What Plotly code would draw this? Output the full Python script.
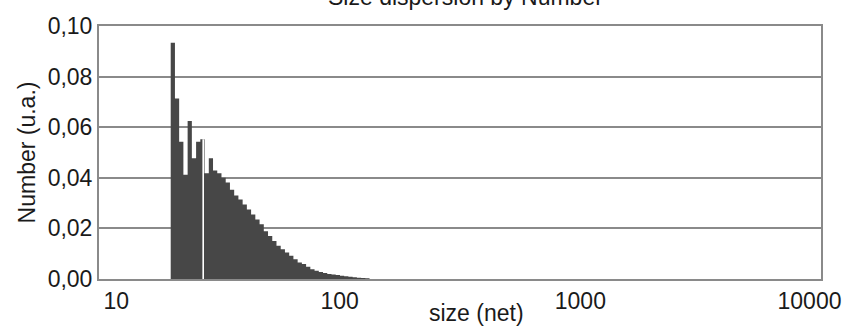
import plotly.graph_objects as go

# ---- data ----
bin_left_nm = [19.86, 20.68, 21.53, 22.42, 23.35, 24.31, 25.32, 26.36, 27.45, 28.59,
               29.77, 31.00, 32.28, 33.61, 35.00, 36.45, 37.95, 39.52, 41.15, 42.85,
               44.62, 46.47, 48.39, 50.39, 52.47, 54.63, 56.89, 59.24, 61.69, 64.24,
               66.89, 69.66, 72.53, 75.53, 78.65, 81.90, 85.28, 88.81, 92.48, 96.30,
               100.3, 104.4, 108.7, 113.2, 117.9, 122.8, 127.8]
bin_last_right_nm = 133.1
number = [0.0934, 0.0713, 0.0542, 0.0412, 0.0625, 0.0477, 0.0542, 0.0552, 0.0418, 0.0477,
          0.0429, 0.0418, 0.0400, 0.0381, 0.0353, 0.0330, 0.0314, 0.0294, 0.0275, 0.0255,
          0.0235, 0.0216, 0.0189, 0.0170, 0.0150, 0.0131, 0.0118, 0.0105, 0.0092, 0.0078,
          0.0065, 0.0059, 0.0048, 0.0039, 0.0033, 0.0028, 0.0024, 0.0020, 0.0018, 0.0016,
          0.0013, 0.0011, 0.0009, 0.0007, 0.0005, 0.0004, 0.0003]
gap_size_nm = 27.1          # thin white gap seen in the histogram
gap_height = 0.0552

x_tick_vals = [10, 100, 1000, 10000]
x_tick_text = ["\u2003\u200210", "100", "1000", "10000\u2003"]
y_tick_vals = [0.00, 0.02, 0.04, 0.06, 0.08, 0.10]
y_tick_text = ["0,00", "0,02", "0,04", "0,06", "0,08", "0,10"]

title_text = "Size dispersion by Number"
x_title = "size (net)"
y_title = "Number (u.a.)"

FONT = "Liberation Sans, Arial, sans-serif"
FS = 23
TXT = "#1a1a1a"
BAR = "#474747"
GRID = "#8a8a8a"

edges = bin_left_nm + [bin_last_right_nm]
heights = number + [number[-1]]

fig = go.Figure()
fig.add_trace(go.Scatter(
    x=edges, y=heights, mode="lines", line=dict(shape="hv", width=0, color=BAR),
    fill="tozeroy", fillcolor=BAR, hoverinfo="skip", showlegend=False))
fig.add_trace(go.Scatter(
    x=[gap_size_nm, gap_size_nm], y=[0, gap_height], mode="lines",
    line=dict(color="white", width=1.6), hoverinfo="skip", showlegend=False))

fig.update_layout(
    width=851, height=327,
    margin=dict(l=99, r=30, t=26, b=48, autoexpand=False),
    paper_bgcolor="white", plot_bgcolor="white",
    font=dict(family=FONT, size=FS, color=TXT),
    showlegend=False,
    annotations=[
        dict(text=title_text, xref="paper", yref="paper", x=0.507, y=1.1146,
             xanchor="center", yanchor="middle", showarrow=False,
             font=dict(family=FONT, size=FS, color=TXT)),
        dict(text=x_title, xref="paper", yref="paper", x=0.5235, y=-0.134,
             xanchor="center", yanchor="middle", showarrow=False,
             font=dict(family=FONT, size=FS, color=TXT)),
    ],
)
fig.update_xaxes(
    type="log", range=[1, 4], tickmode="array", tickvals=x_tick_vals, ticktext=x_tick_text,
    showgrid=False, zeroline=False, ticks="", automargin=False, ticklabeloverflow="allow",
    showline=True, linecolor=GRID, linewidth=2, mirror=True,
    tickfont=dict(family=FONT, size=FS, color=TXT),
)
fig.update_yaxes(
    range=[0, 0.10], tickmode="array", tickvals=y_tick_vals, ticktext=y_tick_text,
    showgrid=True, gridcolor=GRID, gridwidth=2, zeroline=False, ticks="", automargin=False,
    showline=True, linecolor=GRID, linewidth=2, mirror=True,
    tickfont=dict(family=FONT, size=FS, color=TXT),
    title=dict(text=y_title, standoff=6, font=dict(family=FONT, size=FS, color=TXT)),
)

fig.write_html("out.html", config={"displayModeBar": False},
               post_script="document.body.style.margin='0';")
